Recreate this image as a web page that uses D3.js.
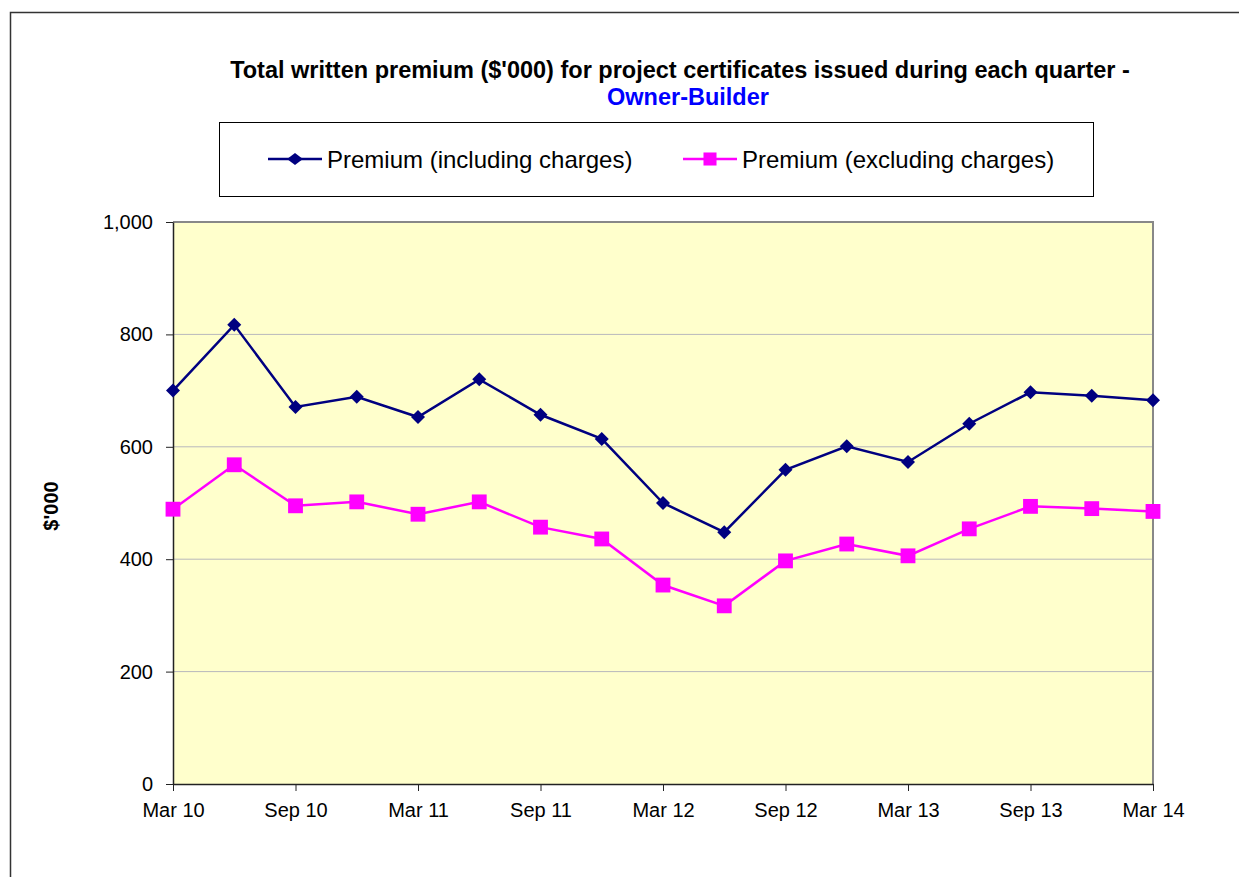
<!DOCTYPE html>
<html>
<head>
<meta charset="utf-8">
<script src="https://cdn.jsdelivr.net/npm/d3@7"></script>
<style>
  body { margin: 0; background: #fff; }
  text { font-family: "Liberation Sans", Arial, sans-serif; }
</style>
</head>
<body>
<svg width="1239" height="877"></svg>
<script>
// quarters, Mar 10 .. Mar 14
const quarters = ['Mar 10','Jun 10','Sep 10','Dec 10','Mar 11','Jun 11','Sep 11','Dec 11',
  'Mar 12','Jun 12','Sep 12','Dec 12','Mar 13','Jun 13','Sep 13','Dec 13','Mar 14'];
const inclCharges = [700, 817, 671, 689, 653, 720, 657, 614, 500, 448, 559, 601, 573, 641, 697, 691, 683];
const exclCharges = [489, 568, 495, 502, 480, 502, 457, 436, 354, 317, 397, 427, 406, 454, 494, 490, 485];
const yTicks = [0, 200, 400, 600, 800, 1000];

const svg = d3.select('svg');
const FONT = '"Liberation Sans", Arial, sans-serif';

// outer chart frame (runs off the picture on right / bottom)
svg.append('rect')
  .attr('x', 10.5).attr('y', 12.5)
  .attr('width', 1260).attr('height', 900)
  .attr('fill', '#fff')
  .attr('stroke', '#333').attr('stroke-width', 1.5);

const plot = { left: 173, right: 1153, top: 222, bottom: 784 };

const x = d3.scalePoint()
  .domain(quarters)
  .range([plot.left, plot.right]);

const y = d3.scaleLinear()
  .domain([0, 1000])
  .range([plot.bottom, plot.top]);

// plot background
svg.append('rect')
  .attr('x', plot.left).attr('y', plot.top)
  .attr('width', plot.right - plot.left).attr('height', plot.bottom - plot.top)
  .attr('fill', '#FFFFCC');

// gridlines
svg.append('g')
  .selectAll('line')
  .data(yTicks.filter(d => d > 0 && d < 1000))
  .join('line')
  .attr('x1', plot.left).attr('x2', plot.right)
  .attr('y1', d => y(d)).attr('y2', d => y(d))
  .attr('stroke', '#b8b8bc').attr('stroke-width', 1);

// plot border (top/right grey)
svg.append('path')
  .attr('d', `M${plot.left},${plot.top}H${plot.right}V${plot.bottom}`)
  .attr('fill', 'none').attr('stroke', '#888').attr('stroke-width', 2);

// y axis
const yAxis = svg.append('g')
  .attr('transform', `translate(${plot.left},0)`)
  .call(d3.axisLeft(y).tickValues(yTicks).tickSize(7).tickSizeOuter(0).tickPadding(13).tickFormat(d3.format(',')));
yAxis.select('.domain').attr('stroke', '#222').attr('stroke-width', 1.5);
yAxis.selectAll('.tick line').attr('stroke', '#222');
yAxis.selectAll('text').attr('font-size', 20).attr('fill', '#000').attr('font-family', FONT);

// x axis
const labelled = quarters.filter((d, i) => i % 2 === 0);
const xAxis = svg.append('g')
  .attr('transform', `translate(0,${plot.bottom})`)
  .call(d3.axisBottom(x).tickValues(labelled).tickSize(7).tickSizeOuter(0).tickPadding(12));
xAxis.select('.domain').attr('stroke', '#222').attr('stroke-width', 1.5);
xAxis.selectAll('.tick line').attr('stroke', '#222');
xAxis.selectAll('text').attr('font-size', 20).attr('fill', '#000').attr('font-family', FONT);

// y axis title
svg.append('text')
  .attr('transform', 'translate(58,506) rotate(-90)')
  .attr('text-anchor', 'middle')
  .attr('font-size', 20).attr('font-weight', 'bold')
  .text("$'000");

// series
const series = [
  { name: 'Premium (including charges)', values: inclCharges, color: '#000080', marker: 'diamond' },
  { name: 'Premium (excluding charges)', values: exclCharges, color: '#FF00FF', marker: 'square' }
];

const line = d3.line()
  .x((d, i) => x(quarters[i]))
  .y(d => y(d));

const symDiamond = d3.symbol().type(d3.symbolDiamond2).size(125);
const symSquare = d3.symbol().type(d3.symbolSquare).size(220);

series.forEach(s => {
  svg.append('path')
    .datum(s.values)
    .attr('fill', 'none')
    .attr('stroke', s.color)
    .attr('stroke-width', 2.5)
    .attr('d', line);

  svg.append('g')
    .selectAll('path')
    .data(s.values)
    .join('path')
    .attr('transform', (d, i) => `translate(${x(quarters[i])},${y(d)})`)
    .attr('d', s.marker === 'diamond' ? symDiamond : symSquare)
    .attr('fill', s.color);
});

// title
svg.append('text')
  .attr('x', 680).attr('y', 78)
  .attr('text-anchor', 'middle')
  .attr('font-size', 23.5).attr('font-weight', 'bold')
  .text("Total written premium ($'000) for project certificates issued during each quarter -");
svg.append('text')
  .attr('x', 688).attr('y', 105)
  .attr('text-anchor', 'middle')
  .attr('font-size', 23.5).attr('font-weight', 'bold')
  .attr('fill', '#0000FF')
  .text('Owner-Builder');

// legend
svg.append('rect')
  .attr('x', 219.5).attr('y', 122.5)
  .attr('width', 874).attr('height', 74)
  .attr('fill', '#fff').attr('stroke', '#000').attr('stroke-width', 1);

const legendItems = [
  { s: series[0], lx: 268 },
  { s: series[1], lx: 683 }
];
legendItems.forEach(({ s, lx }) => {
  const g = svg.append('g').attr('transform', `translate(${lx},159)`);
  g.append('line').attr('x1', 0).attr('x2', 54).attr('stroke', s.color).attr('stroke-width', 2.5);
  g.append('path')
    .attr('transform', s.marker === 'diamond' ? 'translate(27,0) scale(1.3,1)' : 'translate(27,0)')
    .attr('d', s.marker === 'diamond' ? d3.symbol().type(d3.symbolDiamond2).size(95)() : d3.symbol().type(d3.symbolSquare).size(170)())
    .attr('fill', s.color);
  g.append('text')
    .attr('x', 59).attr('y', 8.5)
    .attr('font-size', 24)
    .text(s.name);
});
</script>
</body>
</html>
